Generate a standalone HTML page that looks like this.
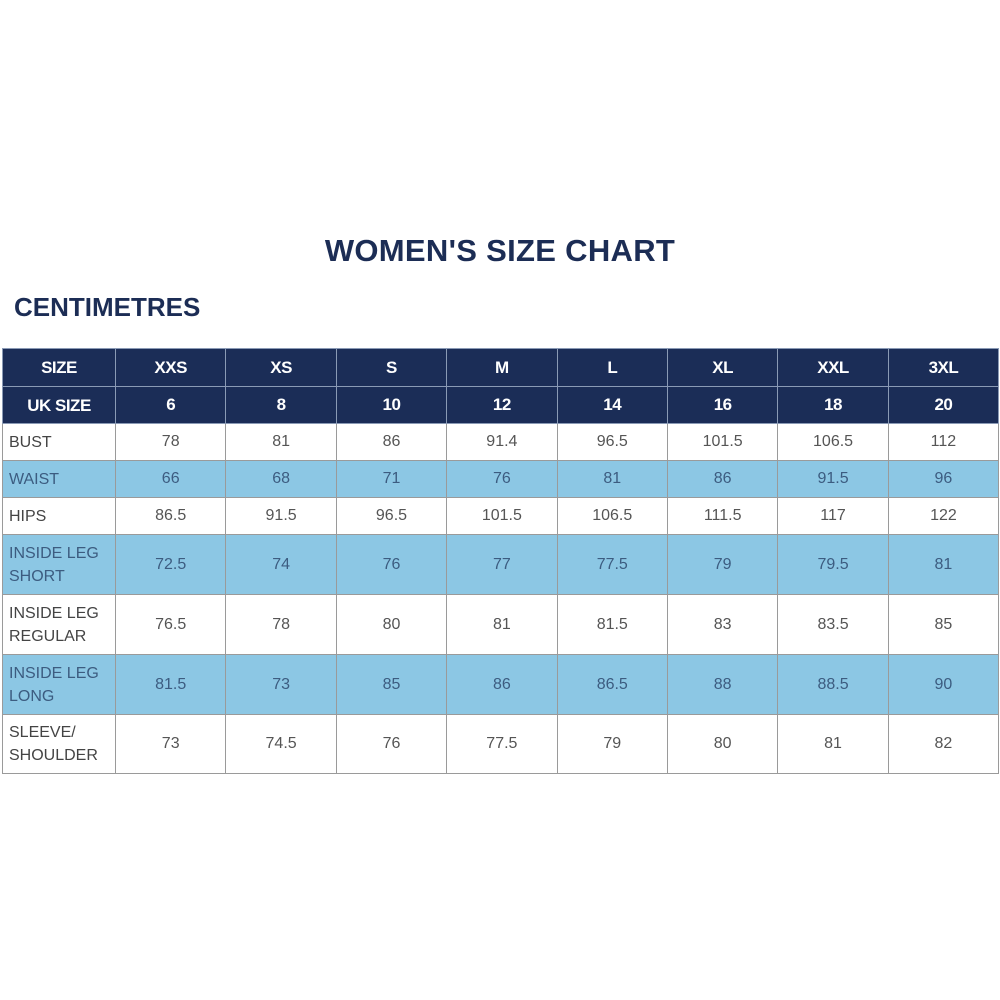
<!DOCTYPE html>
<html><head><meta charset="utf-8"><style>
body{margin:0;width:1000px;height:1000px;background:#fff;position:relative;font-family:"Liberation Sans",sans-serif;overflow:hidden}
h1{position:absolute;top:233px;left:0;width:1000px;text-align:center;margin:0;font-size:31px;font-weight:bold;color:#1c2d55;letter-spacing:0.3px}
h2{position:absolute;top:292px;left:14px;margin:0;font-size:26px;font-weight:bold;color:#1c2d55}
table{position:absolute;top:348px;left:2px;width:996px;border-collapse:collapse;table-layout:fixed}
td{border:1px solid #9a9a9a;text-align:center;font-size:16px;color:#555;padding:0}
td:first-child{text-align:left;padding-left:6px;color:#444;line-height:23px}
tr.h td{background:#1b2d57;color:#fff;font-weight:bold;font-size:17px;border-color:#8a9ab5;text-align:center;padding-left:0;letter-spacing:-0.5px}
tr.b td{background:#8cc7e4;color:#3c5c80}
</style></head><body>
<h1>WOMEN'S SIZE CHART</h1>
<h2>CENTIMETRES</h2>
<table>
<colgroup><col style="width:113px"><col span="8" style="width:110.4px"></colgroup>
<tr class="h" style="height:38px"><td>SIZE</td><td>XXS</td><td>XS</td><td>S</td><td>M</td><td>L</td><td>XL</td><td>XXL</td><td>3XL</td></tr>
<tr class="h" style="height:37px"><td>UK SIZE</td><td>6</td><td>8</td><td>10</td><td>12</td><td>14</td><td>16</td><td>18</td><td>20</td></tr>
<tr style="height:37px"><td>BUST</td><td>78</td><td>81</td><td>86</td><td>91.4</td><td>96.5</td><td>101.5</td><td>106.5</td><td>112</td></tr>
<tr class="b" style="height:37px"><td>WAIST</td><td>66</td><td>68</td><td>71</td><td>76</td><td>81</td><td>86</td><td>91.5</td><td>96</td></tr>
<tr style="height:37px"><td>HIPS</td><td>86.5</td><td>91.5</td><td>96.5</td><td>101.5</td><td>106.5</td><td>111.5</td><td>117</td><td>122</td></tr>
<tr class="b" style="height:60px"><td>INSIDE LEG<br>SHORT</td><td>72.5</td><td>74</td><td>76</td><td>77</td><td>77.5</td><td>79</td><td>79.5</td><td>81</td></tr>
<tr style="height:60px"><td>INSIDE LEG<br>REGULAR</td><td>76.5</td><td>78</td><td>80</td><td>81</td><td>81.5</td><td>83</td><td>83.5</td><td>85</td></tr>
<tr class="b" style="height:60px"><td>INSIDE LEG<br>LONG</td><td>81.5</td><td>73</td><td>85</td><td>86</td><td>86.5</td><td>88</td><td>88.5</td><td>90</td></tr>
<tr style="height:59px"><td>SLEEVE/<br>SHOULDER</td><td>73</td><td>74.5</td><td>76</td><td>77.5</td><td>79</td><td>80</td><td>81</td><td>82</td></tr>
</table>
</body></html>
